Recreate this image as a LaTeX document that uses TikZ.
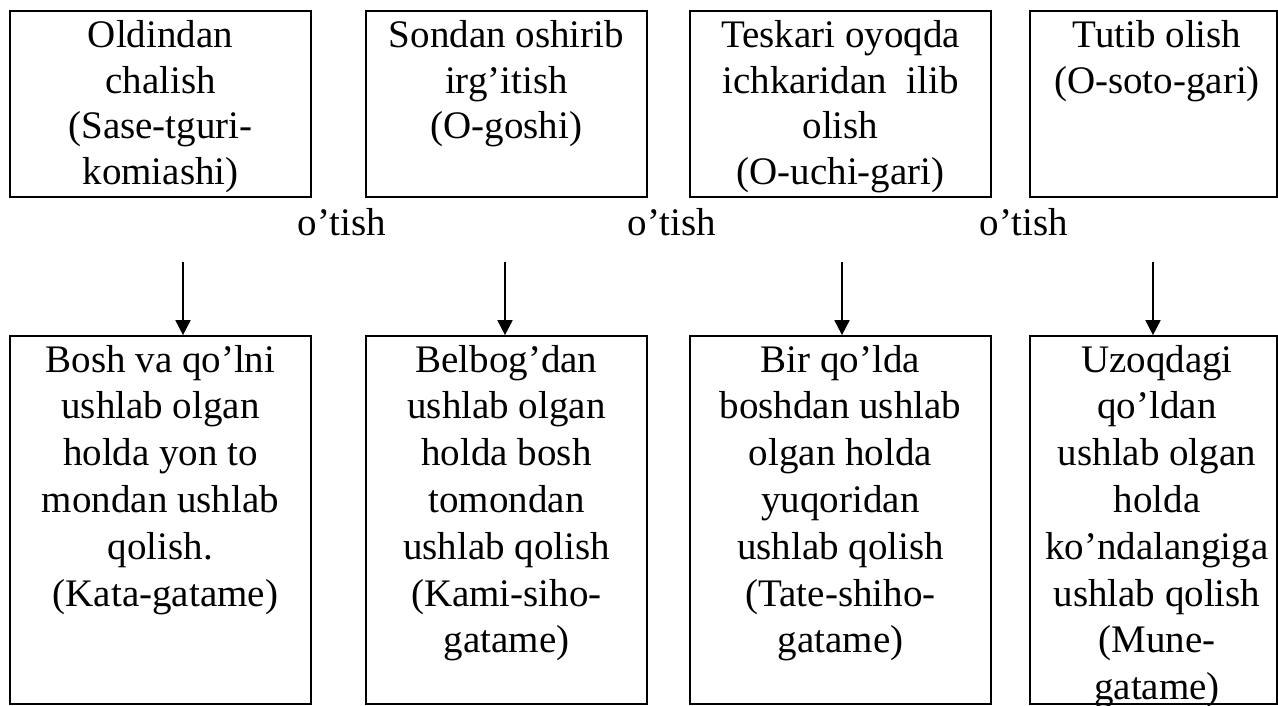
\documentclass[tikz,border=0pt]{standalone}
\usepackage{fontspec}
\setmainfont{Liberation Serif}
\usetikzlibrary{arrows.meta}
\begin{document}
\begin{tikzpicture}[x=1pt,y=-1pt,
  box/.style={draw=black, line width=1.7pt, inner sep=0pt},
  toplbl/.style={anchor=base, inner sep=0pt, font=\fontsize{39}{45.5}\selectfont},
  botlbl/.style={anchor=base, inner sep=0pt, font=\fontsize{39}{46.8}\selectfont},
  passlbl/.style={anchor=base, inner sep=0pt, font=\fontsize{39}{45.5}\selectfont},
  arr/.style={-{Triangle[width=15pt,length=15pt]}, line width=1.7pt}]
\useasboundingbox (0,0) rectangle (1278,706);
% top boxes
\node[box, minimum width=301pt, minimum height=186pt] (b1) at (160.5,104) {};
\node[box, minimum width=281pt, minimum height=186pt] (b2) at (506.5,104) {};
\node[box, minimum width=301pt, minimum height=186pt] (b3) at (840.5,104) {};
\node[box, minimum width=247pt, minimum height=186pt] (b4) at (1153.5,104) {};
\node[toplbl] (t1) at (160.5,48) {\parbox[t]{295pt}{\centering Oldindan\\chalish\\(Sase-tguri-\\komiashi)}};
\node[toplbl] (t2) at (506.5,48) {\parbox[t]{275pt}{\centering Sondan oshirib\\irg’itish\\(O-goshi)}};
\node[toplbl] (t3) at (840.5,48) {\parbox[t]{295pt}{\centering Teskari oyoqda\\ichkaridan\ \ ilib\\olish\\(O-uchi-gari)}};
\node[toplbl] (t4) at (1157,48) {\parbox[t]{240pt}{\centering Tutib olish\\(O-soto-gari)}};
% transition labels
\node[passlbl] (p1) at (342,235) {o’tish};
\node[passlbl] (p2) at (672,235) {o’tish};
\node[passlbl] (p3) at (1024,235) {o’tish};
% bottom boxes
\node[box, minimum width=301pt, minimum height=368pt] (b5) at (160.5,520) {};
\node[box, minimum width=281pt, minimum height=368pt] (b6) at (506.5,520) {};
\node[box, minimum width=301pt, minimum height=368pt] (b7) at (840.5,520) {};
\node[box, minimum width=247pt, minimum height=368pt] (b8) at (1153.5,520) {};
\node[botlbl] (t5) at (160.5,372) {\parbox[t]{295pt}{\centering Bosh va qo’lni\\ushlab olgan\\holda yon to\\mondan ushlab\\qolish.\\\hspace*{0.25em}(Kata-gatame)}};
\node[botlbl] (t6) at (506.5,372) {\parbox[t]{275pt}{\centering Belbog’dan\\ushlab olgan\\holda bosh\\tomondan\\ushlab qolish\\(Kami-siho-\\gatame)}};
\node[botlbl] (t7) at (840.5,372) {\parbox[t]{295pt}{\centering Bir qo’lda\\boshdan ushlab\\olgan holda\\yuqoridan\\ushlab qolish\\(Tate-shiho-\\gatame)}};
\node[botlbl] (t8) at (1157,372) {\parbox[t]{244pt}{\centering Uzoqdagi\\qo’ldan\\ushlab olgan\\holda\\ko’ndalangiga\\ushlab qolish\\(Mune-\\gatame)}};
% arrows
\coordinate (a1) at (183,262);
\coordinate (a2) at (505,262);
\coordinate (a3) at (842,262);
\coordinate (a4) at (1153,262);
\draw[arr] (a1) -- (a1 |- b5.north);
\draw[arr] (a2) -- (a2 |- b6.north);
\draw[arr] (a3) -- (a3 |- b7.north);
\draw[arr] (a4) -- (a4 |- b8.north);
\end{tikzpicture}
\end{document}
